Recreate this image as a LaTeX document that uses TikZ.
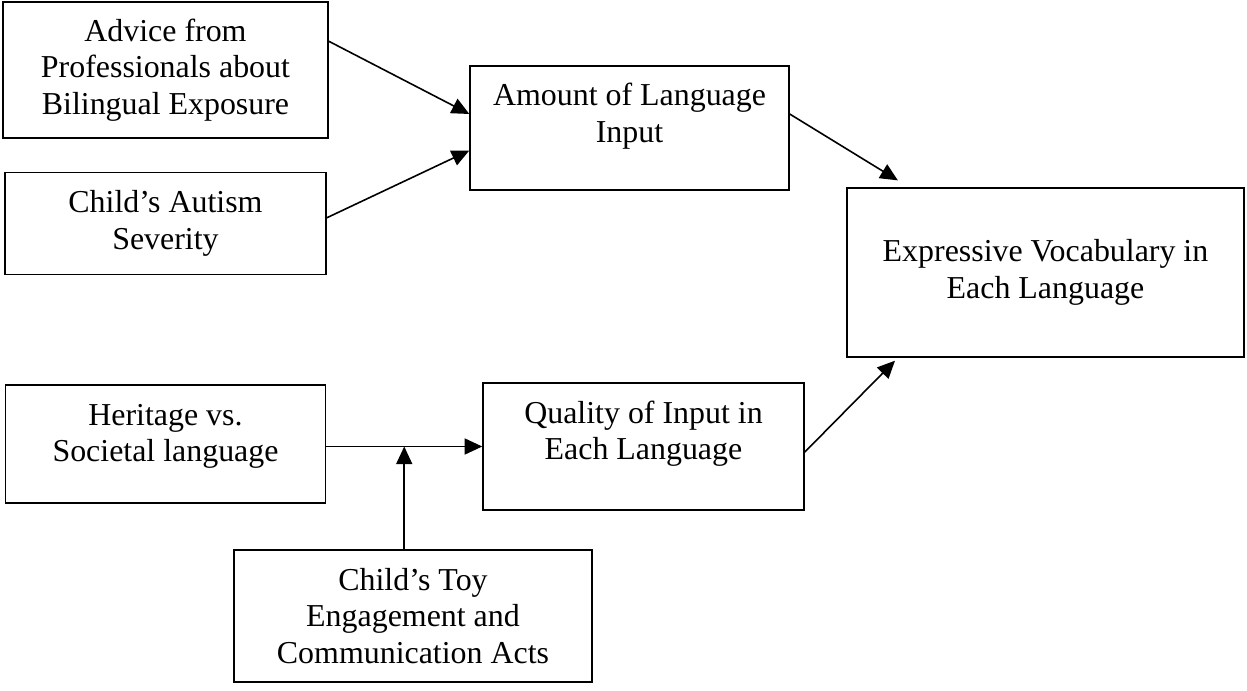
\documentclass[tikz,border=0pt]{standalone}
\usepackage{fontspec}
\setmainfont{Liberation Serif}
\usepackage{tikz}
\usetikzlibrary{arrows.meta,positioning,calc}
\tikzstyle{var} = [rectangle, draw=black, line width=0.55pt, inner sep=0pt, align=center, text centered, font=\fontsize{12}{13.8}\selectfont]
\tikzstyle{pedge} = [draw, line width=0.6pt, >={Triangle[length=6.6pt, width=6pt]}, ->]

\begin{document}
\begin{tikzpicture}[x=0.376pt, y=0.376pt]
\useasboundingbox (0,0) rectangle (1247,-691);

% predictors ==============================
\node[var, minimum width=122.2pt, minimum height=51.1pt] (advice) at (165.5,-70) {Advice from\\Professionals about\\Bilingual Exposure};
\node[var, minimum width=120.7pt, minimum height=38.4pt, below=12.4pt of advice] (autism) {Child's Autism\\Severity};
\node[var, minimum width=120.3pt, minimum height=44.4pt, below=41pt of autism] (heritage) {Heritage vs.\\Societal language\\[-5.5pt]\mbox{}};
\node[var, minimum width=134.6pt, minimum height=49.6pt] (toy) at (413,-616) {Child's Toy\\Engagement and\\Communication Acts};

% input
\node[var, minimum width=119.9pt, minimum height=46.6pt] (amount) at (629.5,-128) {Amount of Language\\Input\\[-2.5pt]\mbox{}};
\node[var, minimum width=120.7pt, minimum height=47.8pt] (quality) at (643.5,-446.5) {Quality of Input in\\Each Language\\[-1.5pt]\mbox{}};

% outcome
\node[var, minimum width=149.3pt, minimum height=63.5pt] (vocab) at (1045.5,-272.5) {Expressive Vocabulary in\\Each Language};

%edges
\path[pedge] (advice.10) -- (amount.175);
\path[pedge] (autism.2) -- (amount.188);
\path[pedge, shorten >=5pt] (amount.5) -- (vocab.148);
\path[pedge] (heritage.east |- quality.west) -- (quality.west);
\path[pedge, shorten >=1.6pt] (quality.-2) -- (vocab.210);

%moderator
\coordinate (mid) at ($(heritage.east |- quality.west)!0.5!(quality.west)$);
\path[pedge] (toy.north -| mid) -- (mid);

\end{tikzpicture}
\end{document}
